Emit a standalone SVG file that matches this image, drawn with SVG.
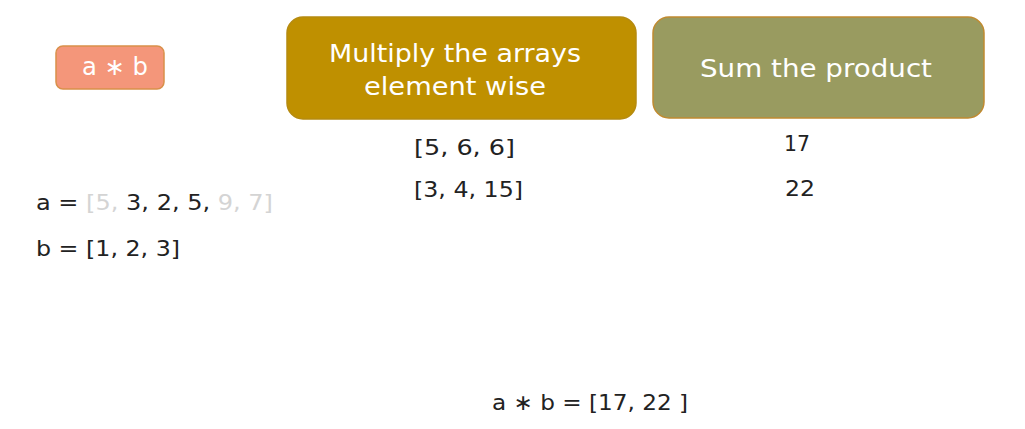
<svg xmlns="http://www.w3.org/2000/svg" width="1025" height="429" viewBox="0 0 1025 429">
<style>
text{font-family:"DejaVu Sans","Noto Sans",sans-serif;}
.w{fill:#ffffff;font-size:24px;text-anchor:middle;}
.k{fill:#222222;font-size:22px;}
.g{fill:#d4d4d4;}
</style>
<rect width="1025" height="429" fill="#ffffff"/>
<g id="node-ab">
<rect x="56" y="46" width="108" height="43" rx="7" fill="#F4967A" stroke="#D9904A" stroke-width="1.5"/>
<text class="w" x="115" y="75" font-size="22" textLength="66" lengthAdjust="spacingAndGlyphs">a ∗ b</text>
</g>
<g id="node-multiply">
<rect x="287" y="17" width="349" height="102" rx="16" fill="#BF9000" stroke="#B58A10" stroke-width="1.5"/>
<text class="w" x="455" y="62" textLength="252" lengthAdjust="spacingAndGlyphs">Multiply the arrays</text>
<text class="w" x="455" y="95" textLength="182" lengthAdjust="spacingAndGlyphs">element wise</text>
</g>
<g id="node-sum">
<rect x="653" y="17" width="331" height="101" rx="16" fill="#999B60" stroke="#C08A30" stroke-width="1.5"/>
<text class="w" x="816" y="77" textLength="232" lengthAdjust="spacingAndGlyphs">Sum the product</text>
</g>
<g id="connectors"></g>
<g id="texts">
<text class="k" x="414" y="155" textLength="101" lengthAdjust="spacingAndGlyphs">[5, 6, 6]</text>
<text class="k" x="414" y="197" textLength="109" lengthAdjust="spacingAndGlyphs">[3, 4, 15]</text>
<text class="k" x="784" y="151" textLength="26" lengthAdjust="spacingAndGlyphs">17</text>
<text class="k" x="785" y="196" textLength="30" lengthAdjust="spacingAndGlyphs">22</text>
<text class="k" x="36" y="210" textLength="237" lengthAdjust="spacingAndGlyphs">a = <tspan class="g">[5, </tspan>3, 2, 5, <tspan class="g">9, 7]</tspan></text>
<text class="k" x="36" y="256" textLength="144" lengthAdjust="spacingAndGlyphs">b = [1, 2, 3]</text>
<text class="k" x="492" y="410" textLength="196" lengthAdjust="spacingAndGlyphs">a ∗ b = [17, 22 ]</text>
</g>
</svg>
